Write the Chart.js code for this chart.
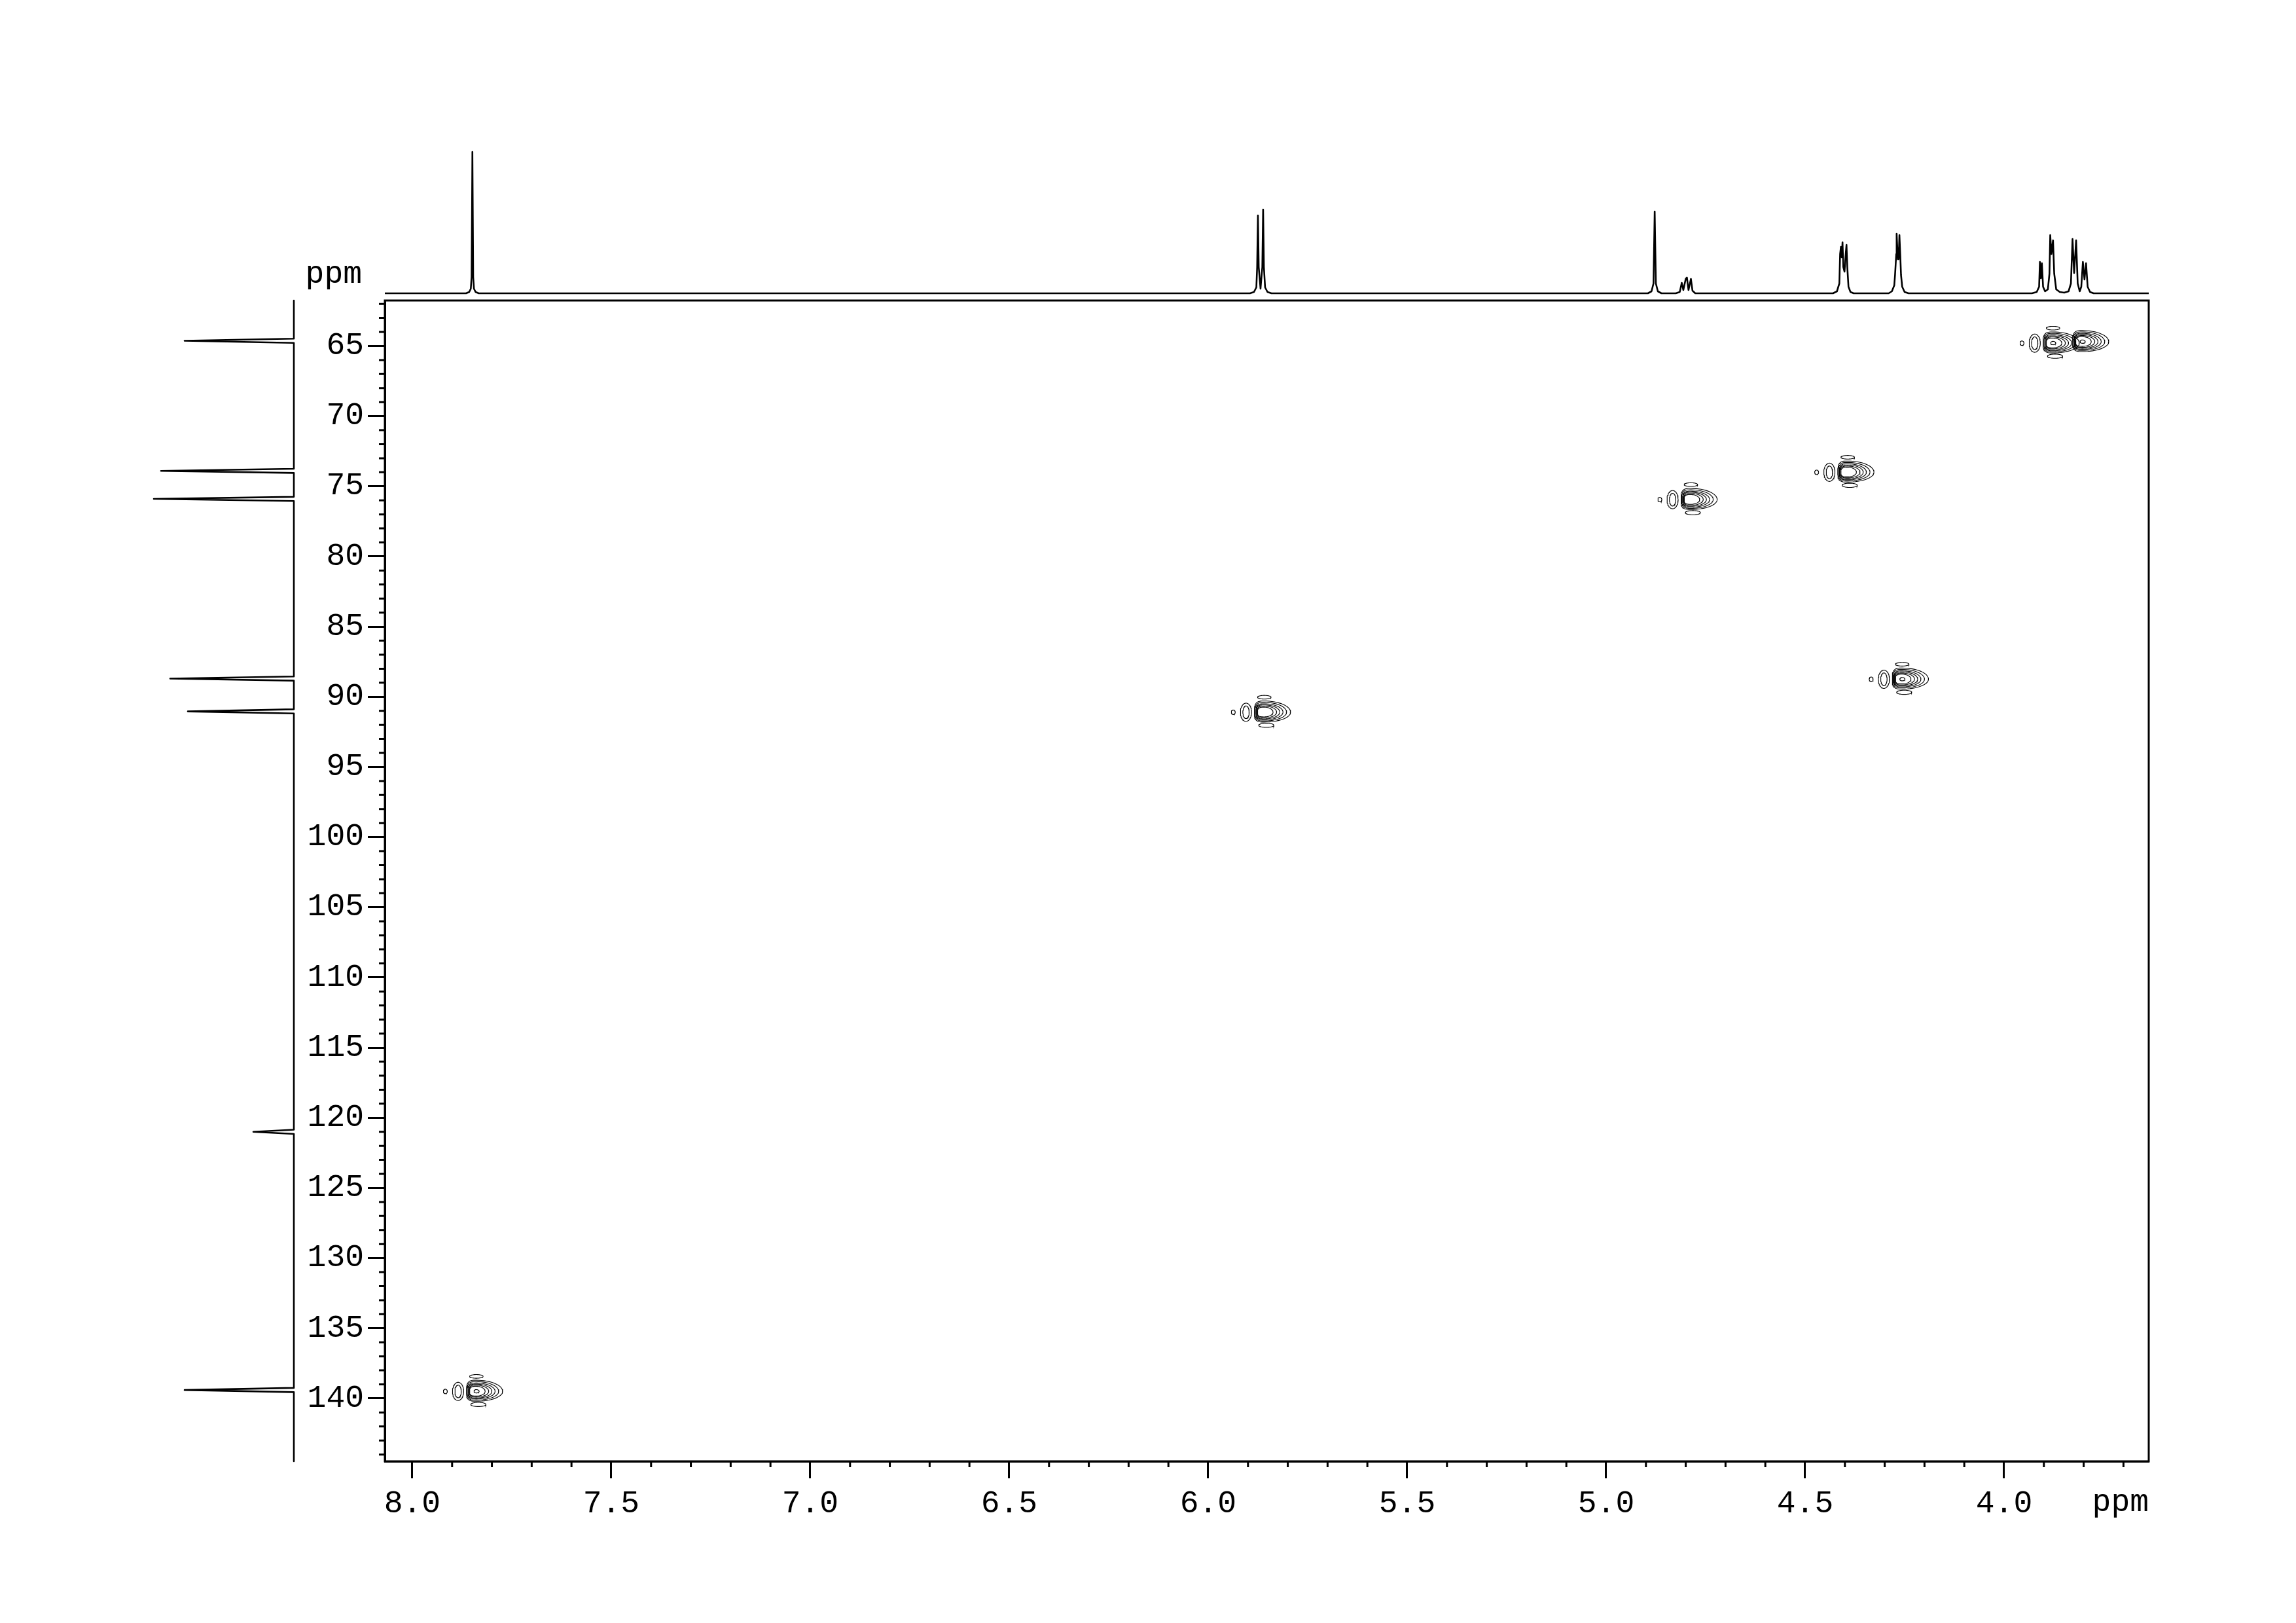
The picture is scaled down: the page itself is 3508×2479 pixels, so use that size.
<!DOCTYPE html>
<html><head><meta charset="utf-8">
<script src="https://cdn.jsdelivr.net/npm/chart.js@4.4.0/dist/chart.umd.min.js"></script>
<style>
html,body{margin:0;padding:0;background:#fff;}
#wrap{position:relative;width:3508px;height:2479px;overflow:hidden;background:#fff;}
canvas{position:absolute;left:0;top:0;}
</style></head><body>
<div id="wrap">
<canvas id="main" width="3508" height="2479" style="width:3508px;height:2479px"></canvas>
<canvas id="side" width="460" height="2479" style="width:460px;height:2479px"></canvas>
<canvas id="top" width="3508" height="480" style="width:3508px;height:480px"></canvas>
</div>
<script>
// ---------- DATA ----------
const xTickLabels = ['8.0','7.5','7.0','6.5','6.0','5.5','5.0','4.5','4.0'];
const yTickLabels = ['65','70','75','80','85','90','95','100','105','110','115','120','125','130','135','140'];
const hRange = [3.6365, 8.069];   // 1H axis (ppm)
const cRange = [61.76, 144.48];   // 13C axis (ppm)

// 1H projection trace (ppm, intensity)
const protonPpm = [8.069,7.865,7.857,7.853,7.851,7.849,7.847,7.845,7.841,7.833,
 5.895,5.885,5.879,5.877,5.875,5.873,5.8685,5.864,5.862,5.860,5.857,5.851,5.841,
 4.895,4.886,4.881,4.878,4.875,4.870,4.861,
 4.825,4.815,4.810,4.806,4.800,4.797,4.793,4.787,4.783,4.776,
 4.430,4.420,4.414,4.412,4.410,4.408,4.406,4.404,4.401,4.398,4.396,4.394,4.391,4.386,4.378,
 4.290,4.282,4.276,4.274,4.271,4.270,4.267,4.265,4.263,4.261,4.259,4.256,4.250,4.240,
 3.930,3.918,3.912,3.910,3.9075,3.905,3.902,3.897,3.890,3.886,3.884,3.881,3.877,3.874,3.869,3.860,3.849,
 3.838,3.832,3.828,3.824,3.819,3.815,3.810,3.806,3.802,3.798,3.794,3.790,3.784,3.775,3.6365];
const protonInt = [0,0,2,7,25,216,25,7,2,0,
 0,2,9,40,119,40,7,40,128,40,9,2,0,
 0,3,15,125,15,3,0,
 0,2,16,5,22,24,5,22,4,0,
 0,3,15,60,71,55,78,40,33,60,74,40,10,2,0,
 0,3,12,28,60,91,52,52,89,60,28,10,2,0,
 0,2,10,48,23,46,10,3,6,30,89,60,81,30,6,2,1,
 3,15,83,31,81,15,3,10,48,21,46,10,2,0,0];

// 13C projection lines (ppm, intensity)
const carbonPpm = [64.63, 73.9, 75.9, 88.7, 91.04, 121.0, 139.4];
const carbonInt = [167, 203, 214, 189, 162, 62, 167];

// HSQC cross peaks
const crossH = [7.839, 5.859, 4.787, 4.393, 4.256, 3.877, 3.803];
const crossC = [139.5, 91.1, 75.95, 74.0, 88.75, 64.8, 64.7];
const crossLevels = [7, 6, 6, 6, 7, 7, 7];
const crossLobes = [1, 1, 1, 1, 1, 1, 0];

// ---------- contour shape template (style) ----------
const ringHighH = [0.025, 0.023, 0.021, 0.020, 0.018, 0.017, 0.006];
const ringLowH  = [0.066, 0.056, 0.047, 0.039, 0.031, 0.022, 0.007];
const ringUpC   = [0.80, 0.70, 0.60, 0.52, 0.44, 0.36, 0.13];
const ringDownC = [0.70, 0.62, 0.54, 0.47, 0.40, 0.33, 0.11];
const lobeShapes = [ // dH, dC, halfW(ppm H), halfH(ppm C)
  [0.046, 0.0, 0.014, 0.65],
  [0.046, 0.0, 0.008, 0.45],
  [0.0, -1.07, 0.017, 0.13],
  [-0.005, 0.93, 0.019, 0.15],
  [0.078, 0.0, 0.005, 0.16]
];

function ring(h, c, hi, lo, up, dn, skew) {
  const pts = [];
  const N = 64;
  for (let i = 0; i <= N; i++) {
    const t = 2 * Math.PI * i / N;
    let cs = Math.cos(t), sn = Math.sin(t);
    if (skew && cs < 0) {
      cs = -Math.pow(Math.abs(cs), 0.6);
      sn = Math.sign(sn) * Math.pow(Math.abs(sn), 0.6);
    }
    const H = cs >= 0 ? h - lo * cs : h - hi * cs;
    const C = sn >= 0 ? c + dn * sn : c + up * sn;
    pts.push({x: H, y: C});
  }
  return pts;
}

const contourSets = [];
crossH.forEach((h, i) => {
  const c = crossC[i];
  for (let k = 0; k < crossLevels[i]; k++) {
    contourSets.push(ring(h, c, ringHighH[k], ringLowH[k], ringUpC[k], ringDownC[k], k < 6));
  }
  if (crossLobes[i]) {
    lobeShapes.forEach(L => {
      contourSets.push(ring(h + L[0], c + L[1], L[2], L[2], L[3], L[3], false));
    });
  }
});

const FONT = '"Liberation Mono", "Courier New", monospace';
const BLACK = '#000';

// ---------- MAIN 2D ----------
const framePlugin = {
  id: 'frame',
  afterDraw(chart) {
    const {ctx, chartArea: a, scales: {x, y}} = chart;
    ctx.save();
    ctx.strokeStyle = BLACK;
    ctx.lineWidth = 3;
    ctx.strokeRect(a.left, a.top, a.right - a.left, a.bottom - a.top);
    ctx.beginPath();
    for (let i = 37; i <= 80; i++) {
      if (i % 5 === 0) continue;
      const px = x.getPixelForValue(i / 10);
      ctx.moveTo(px, a.bottom); ctx.lineTo(px, a.bottom + 9);
    }
    for (let v = 62; v <= 144; v++) {
      if (v % 5 === 0) continue;
      const py = y.getPixelForValue(v);
      ctx.moveTo(a.left, py); ctx.lineTo(a.left - 9, py);
    }
    ctx.stroke();
    ctx.fillStyle = BLACK;
    ctx.font = '48px ' + FONT;
    ctx.textBaseline = 'alphabetic';
    ctx.textAlign = 'right';
    ctx.fillText('ppm', a.left - 35, a.top - 27);
    ctx.fillText('ppm', a.right, a.bottom + 76);
    ctx.restore();
  }
};

new Chart(document.getElementById('main'), {
  type: 'scatter',
  data: {
    datasets: contourSets.map(d => ({
      data: d, showLine: true, pointRadius: 0, borderColor: BLACK,
      borderWidth: 1.1, fill: false, clip: false
    }))
  },
  options: {
    responsive: false, animation: false, devicePixelRatio: 1, events: [],
    layout: {padding: {left: 0, top: 459, right: 225, bottom: 0}},
    plugins: {legend: {display: false}, tooltip: {enabled: false}},
    scales: {
      x: {
        type: 'linear', reverse: true, min: hRange[0], max: hRange[1], position: 'bottom',
        afterBuildTicks: s => { s.ticks = xTickLabels.map(l => ({value: parseFloat(l)})); },
        afterFit: s => { s.height = 247; },
        border: {display: true, color: BLACK, width: 3},
        grid: {display: true, drawOnChartArea: false, drawTicks: true, tickLength: 26, tickWidth: 3, tickColor: BLACK},
        ticks: {color: BLACK, font: {family: FONT, size: 48}, padding: 10, maxRotation: 0, autoSkip: false,
          callback: v => Number(v).toFixed(1)}
      },
      y: {
        type: 'linear', reverse: true, min: cRange[0], max: cRange[1], position: 'left',
        afterBuildTicks: s => { s.ticks = yTickLabels.map(l => ({value: parseFloat(l)})); },
        afterFit: s => { s.width = 588; },
        border: {display: true, color: BLACK, width: 3},
        grid: {display: true, drawOnChartArea: false, drawTicks: true, tickLength: 26, tickWidth: 3, tickColor: BLACK},
        ticks: {color: BLACK, font: {family: FONT, size: 48}, padding: 6, autoSkip: false,
          callback: v => String(Math.round(v))}
      }
    }
  },
  plugins: [framePlugin]
});

// ---------- TOP 1H projection ----------
new Chart(document.getElementById('top'), {
  type: 'scatter',
  data: {datasets: [{
    data: protonPpm.map((p, i) => ({x: p, y: protonInt[i]})),
    showLine: true, pointRadius: 0, borderColor: BLACK, borderWidth: 2.6, clip: false,
    borderJoinStyle: 'round'
  }]},
  options: {
    responsive: false, animation: false, devicePixelRatio: 1, events: [],
    layout: {padding: {left: 588, right: 225, top: 220, bottom: 32}},
    plugins: {legend: {display: false}, tooltip: {enabled: false}},
    scales: {
      x: {type: 'linear', reverse: true, min: hRange[0], max: hRange[1], display: false},
      y: {type: 'linear', min: 0, max: 228, display: false}
    }
  }
});

// ---------- LEFT 13C projection ----------
const carbonTrace = [{x: 0, y: cRange[0]}];
carbonPpm.forEach((c, i) => {
  carbonTrace.push({x: 0, y: c - 0.15});
  carbonTrace.push({x: carbonInt[i], y: c});
  carbonTrace.push({x: 0, y: c + 0.15});
});
carbonTrace.push({x: 0, y: cRange[1]});

new Chart(document.getElementById('side'), {
  type: 'scatter',
  data: {datasets: [{
    data: carbonTrace, showLine: true, pointRadius: 0, borderColor: BLACK,
    borderWidth: 2.6, clip: false, borderJoinStyle: 'round'
  }]},
  options: {
    responsive: false, animation: false, devicePixelRatio: 1, events: [],
    layout: {padding: {left: 200, right: 11, top: 459, bottom: 247}},
    plugins: {legend: {display: false}, tooltip: {enabled: false}},
    scales: {
      x: {type: 'linear', reverse: true, min: 0, max: 249, display: false},
      y: {type: 'linear', reverse: true, min: cRange[0], max: cRange[1], display: false}
    }
  }
});
</script>
</body></html>
